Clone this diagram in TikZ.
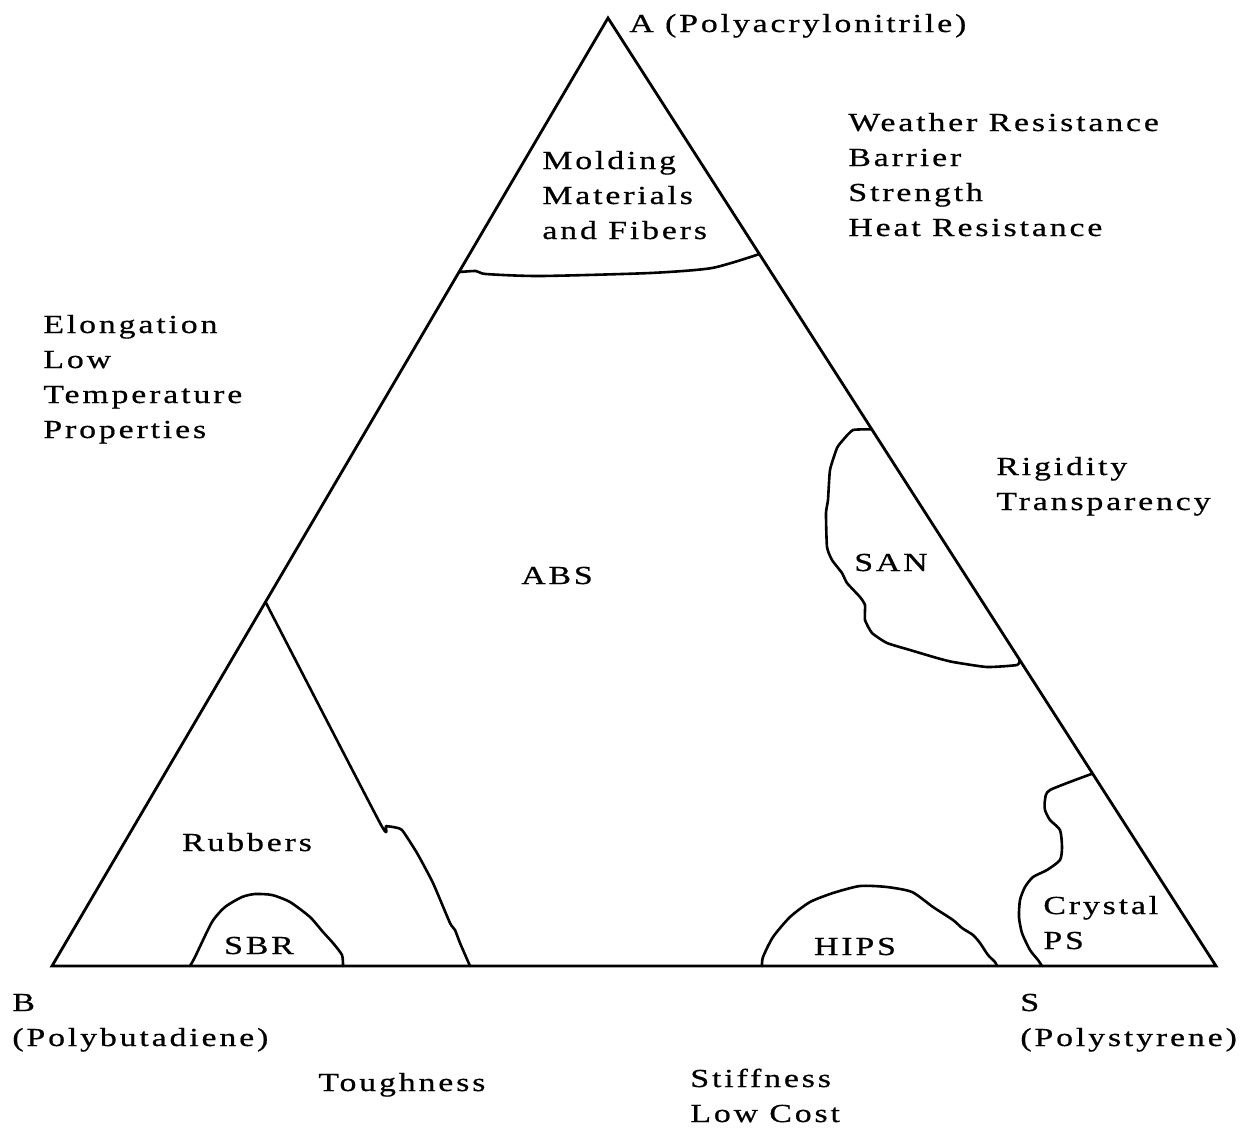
\documentclass[tikz,border=0pt]{standalone}
\usepackage{fontspec}
\setmainfont{Liberation Serif}[FakeStretch=1.3, LetterSpace=11, FakeBold=0.6]
\usepackage{tikz}
\usetikzlibrary{positioning, calc}

\begin{document}
\begin{tikzpicture}[
    x=0.5pt, y=-0.5pt,
    edge/.style={line width=1.4pt, line join=miter},
    bound/.style={line width=1.3pt, line join=round, line cap=round},
    lbl/.style={inner sep=0pt, align=left, font=\fontsize{13}{17.5}\selectfont},
]
\useasboundingbox (0,0) rectangle (1250,1132);

\coordinate (A) at (608,18);
\coordinate (B) at (52,966);
\coordinate (S) at (1216,966);
\draw[edge] (A) -- (B) -- (S) -- cycle;

% region boundaries
\coordinate (moldL) at ($(A)!0.268!(B)$);
\coordinate (moldR) at ($(A)!0.249!(S)$);
\draw[bound] plot[smooth, tension=0.4] coordinates {(moldL) (476,271) (486,274) (540,276) (650,273) (712,268) (moldR)};

\coordinate (sanT) at ($(A)!0.434!(S)$);
\coordinate (sanB) at ($(A)!0.677!(S)$);
\draw[bound] plot[smooth, tension=0.3] coordinates {(sanT) (853,430) (843,440) (837,448) (830,470) (828,500) (826,513) (827,547) (832,560) (842,573) (847,583) (860,597) (865,605) (865,620) (872,633) (887,643) (910,650) (937,658) (953,662) (987,667) (1017,665) (sanB)};

\coordinate (rubT) at ($(A)!0.616!(B)$);
\coordinate (rubB) at (470,966);
\draw[bound] plot[smooth, tension=0.3] coordinates {(rubT) (380,823) (386,826) (393,827) (402,830) (417,853) (433,883) (450,923) (455,930) (460,943) (rubB)};

\coordinate (sbrL) at (190,966);
\coordinate (sbrR) at (343,966);
\draw[bound] plot[smooth, tension=0.4] coordinates {(sbrL) (195,957) (212,922) (225,907) (242,897) (255,894) (272,895) (290,902) (310,917) (323,932) (333,943) (342,955) (sbrR)};

\coordinate (hipsL) at (762,966);
\coordinate (hipsR) at (997,966);
\draw[bound] plot[smooth, tension=0.4] coordinates {(hipsL) (763,957) (773,937) (790,917) (810,902) (833,893) (860,886) (887,887) (912,892) (933,907) (953,920) (962,928) (973,935) (980,943) (988,955) (995,962) (hipsR)};

\coordinate (psT) at ($(A)!0.797!(S)$);
\coordinate (psB) at (1042,966);
\draw[bound] plot[smooth, tension=0.4] coordinates {(psT) (1050,790) (1045,800) (1045,810) (1050,820) (1060,830) (1062,847) (1060,860) (1047,870) (1033,877) (1025,887) (1020,900) (1019,917) (1022,933) (1030,950) (1038,960) (psB)};

% labels
\node[lbl, anchor=base west] (labA) at (629,32) {A (Polyacrylonitrile)};
\node[lbl, anchor=base west] (molding) at (542,239) {Molding\\Materials\\and Fibers};
\node[lbl, anchor=base west] (props) at (848,236) {Weather Resistance\\Barrier\\Strength\\Heat Resistance};
\node[lbl, anchor=base west] (elong) at (43,438) {Elongation\\Low\\Temperature\\Properties};
\node[lbl, anchor=base west] (rigid) at (996,510) {Rigidity\\Transparency};
\node[lbl, anchor=base] (abs) at (557,584) {ABS};
\node[lbl, anchor=base] (san) at (891,571) {SAN};
\node[lbl, anchor=base] (rubbers) at (247,851) {Rubbers};
\node[lbl, anchor=base] (sbr) at (259,954) {SBR};
\node[lbl, anchor=base] (hips) at (855,955) {HIPS};
\node[lbl, anchor=base west] (crystal) at (1043,949) {Crystal\\PS};
\node[lbl, anchor=base west] (labB) at (12,1046) {B\\(Polybutadiene)};
\node[lbl, anchor=base west] (labS) at (1020,1046) {S\\(Polystyrene)};
\node[lbl, anchor=base west] (tough) at (318,1091) {Toughness};
\node[lbl, anchor=base west] (stiff) at (690,1122) {Stiffness\\Low Cost};
\end{tikzpicture}
\end{document}
